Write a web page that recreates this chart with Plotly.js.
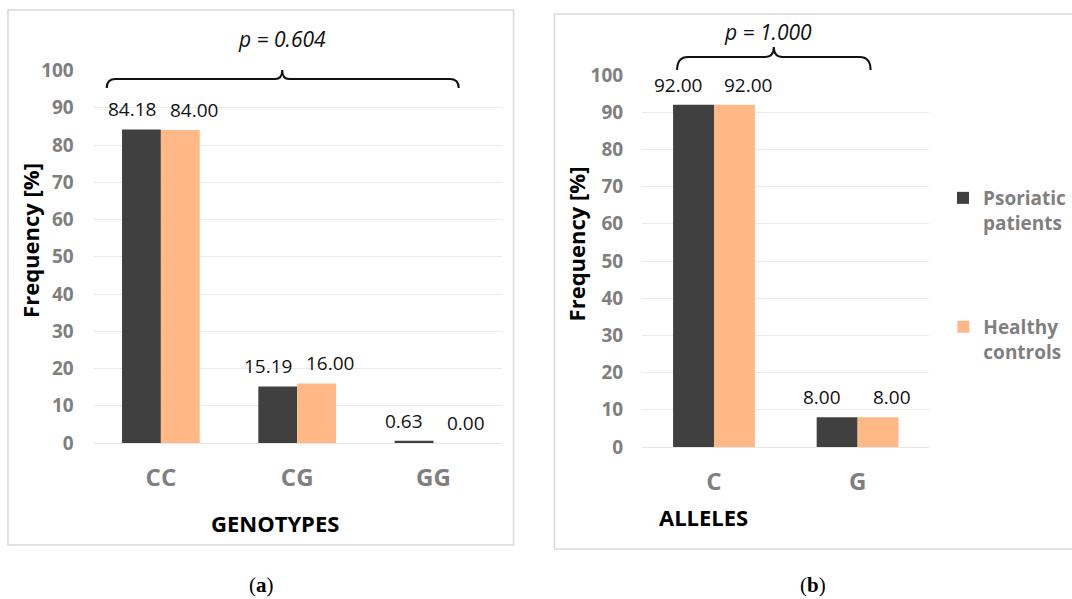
<!DOCTYPE html>
<html>
<head>
<meta charset="utf-8">
<script src="https://cdn.plot.ly/plotly-3.0.1.min.js"></script>
<style>html,body{margin:0;padding:0;background:#fff;}#chart{width:1072px;height:599px;}</style>
</head>
<body>
<div id="chart"></div>
<script>
// ---- data ----
const genotypes = ["CC", "CG", "GG"];
const genoPatients = [84.18, 15.19, 0.63];
const genoControls = [84.00, 16.00, 0.00];
const alleles = ["C", "G"];
const allelePatients = [92.00, 8.00];
const alleleControls = [92.00, 8.00];
const seriesNames = ["Psoriatic<br>patients", "Healthy<br>controls"];
const pValueA = "p = 0.604";
const pValueB = "p = 1.000";
const yTicks = [0, 10, 20, 30, 40, 50, 60, 70, 80, 90, 100];

// ---- styling ----
const W = 1072, H = 599;
const px = x => x / W;
const py = y => 1 - y / H;
const FONT = "Open Sans";
const DARK = "#404040", ORANGE = "#FFB886";
const GRAY = "#7F7F7F";

function braceFromPixels(pts) {
  return pts.map(p => p[0] + " " + p.slice(1).map((v, i) => (i % 2 === 0 ? px(v) : py(v)).toFixed(5)).join(" ")).join(" ");
}

const traces = [
  {type: "bar", x: genotypes, y: genoPatients, name: seriesNames[0], marker: {color: DARK}, xaxis: "x", yaxis: "y", legend: "legend", showlegend: true},
  {type: "bar", x: genotypes, y: genoControls, name: seriesNames[1], marker: {color: ORANGE}, xaxis: "x", yaxis: "y", legend: "legend2", showlegend: true},
  {type: "bar", x: alleles, y: allelePatients, name: seriesNames[0], marker: {color: DARK}, xaxis: "x2", yaxis: "y2", showlegend: false},
  {type: "bar", x: alleles, y: alleleControls, name: seriesNames[1], marker: {color: ORANGE}, xaxis: "x2", yaxis: "y2", showlegend: false}
];

const annotations = [];
function addLabels(cats, vals, xref, yref, shift) {
  cats.forEach((c, i) => {
    annotations.push({xref: xref, yref: yref, x: c, y: vals[i], text: vals[i].toFixed(2), showarrow: false,
      xanchor: "center", yanchor: "middle",
      xshift: shift, yshift: 20, font: {family: FONT, size: 19, color: "#111"}});
  });
}
addLabels(genotypes, genoPatients, "x", "y", -29);
addLabels(genotypes, genoControls, "x", "y", 33);
addLabels(alleles, allelePatients, "x2", "y2", -36);
addLabels(alleles, alleleControls, "x2", "y2", 34);

const titleFont = {family: FONT, size: 22, color: "#000", weight: "bold"};
function paperText(x, y, text, font, extra) {
  return Object.assign({xref: "paper", yref: "paper", x: px(x), y: py(y), text: text, showarrow: false,
    xanchor: "center", yanchor: "middle", font: font}, extra || {});
}
annotations.push(
  paperText(276, 523, "GENOTYPES", titleFont),
  paperText(705, 517, "ALLELES", titleFont),
  paperText(30, 240, "Frequency [%]", titleFont, {textangle: -90}),
  paperText(578, 244, "Frequency [%]", titleFont, {textangle: -90}),
  paperText(283, 39, "<i>" + pValueA + "</i>", {family: FONT, size: 21, color: "#111"}),
  paperText(770, 32, "<i>" + pValueB + "</i>", {family: FONT, size: 21, color: "#111"}),
  paperText(262, 585, "(<b>a</b>)", {family: "Liberation Serif", size: 21, color: "#000"}),
  paperText(815, 585, "(<b>b</b>)", {family: "Liberation Serif", size: 21, color: "#000"})
);

const braceA = braceFromPixels([["M", 107, 88], ["Q", 107, 79, 116, 79], ["L", 276, 79], ["Q", 283, 79, 283, 70], ["Q", 283, 79, 290, 79], ["L", 451, 79], ["Q", 460, 79, 460, 88]]);
const braceB = braceFromPixels([["M", 679, 70], ["Q", 679, 57, 690, 57], ["L", 767, 57], ["Q", 776, 57, 776, 47], ["Q", 776, 57, 785, 57], ["L", 862, 57], ["Q", 873, 57, 873, 70]]);

const shapes = [
  {type: "rect", xref: "paper", yref: "paper", x0: px(8), x1: px(515), y0: py(545), y1: py(10), line: {color: "#D9D9D9", width: 1.5}},
  {type: "rect", xref: "paper", yref: "paper", x0: px(556), x1: px(1080), y0: py(549), y1: py(14), line: {color: "#D9D9D9", width: 1.5}},
  {type: "path", xref: "paper", yref: "paper", path: braceA, line: {color: "#111", width: 2}},
  {type: "path", xref: "paper", yref: "paper", path: braceB, line: {color: "#111", width: 2}}
];

const tickFont = {family: FONT, size: 19, color: GRAY, weight: "bold"};
const catFont = {family: FONT, size: 24, color: GRAY, weight: "bold"};
function yax(domain) {
  return {domain: domain, range: [0, 100], tickvals: yTicks, tickfont: tickFont, showgrid: true, gridcolor: "#EBEBEB",
    zeroline: true, zerolinecolor: "#E6E6E6", zerolinewidth: 1, showline: false, ticks: "", ticklabelstandoff: 18, fixedrange: true};
}
function xax(domain, anchor) {
  return {domain: domain, anchor: anchor, type: "category", tickfont: catFont, showline: false, ticks: "", ticklabelstandoff: 18, showgrid: false, fixedrange: true};
}
const legendFont = {family: FONT, size: 19, color: GRAY, weight: "bold"};

const layout = {
  width: W, height: H,
  margin: {l: 0, r: 0, t: 0, b: 0},
  paper_bgcolor: "#fff", plot_bgcolor: "rgba(0,0,0,0)",
  barmode: "group", bargap: 0.43, bargroupgap: 0,
  xaxis: xax([px(93), px(503)], "y"),
  yaxis: yax([py(443), py(70.5)]),
  xaxis2: xax([px(644), px(932)], "y2"),
  yaxis2: Object.assign(yax([py(447), py(75)]), {anchor: "x2"}),
  legend: {x: px(946), y: py(179), xanchor: "left", yanchor: "top", font: legendFont, valign: "top", bgcolor: "rgba(0,0,0,0)"},
  legend2: {x: px(946), y: py(308), xanchor: "left", yanchor: "top", font: legendFont, valign: "top", bgcolor: "rgba(0,0,0,0)"},
  annotations: annotations,
  shapes: shapes
};

Plotly.newPlot("chart", traces, layout, {staticPlot: true, displayModeBar: false});
</script>
</body>
</html>
